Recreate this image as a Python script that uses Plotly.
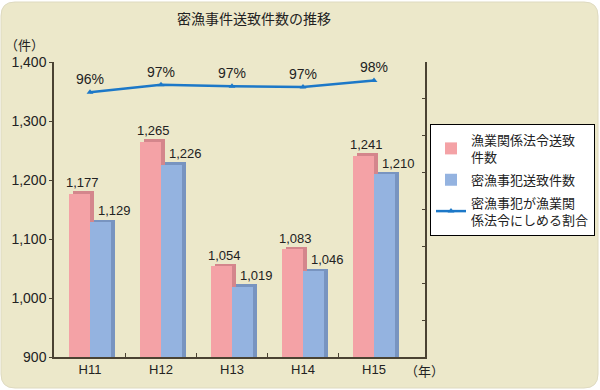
import plotly.graph_objects as go
import numpy as np

# ---- data ----
categories = ["H11", "H12", "H13", "H14", "H15"]
fisheries_law = [1177, 1265, 1054, 1083, 1241]      # 漁業関係法令送致件数
poaching = [1129, 1226, 1019, 1046, 1210]           # 密漁事犯送致件数
ratio_pct = [95.9, 96.9, 96.7, 96.6, 97.5]          # 密漁事犯が漁業関係法令にしめる割合
ratio_labels = ["96%", "97%", "97%", "97%", "98%"]
y_ticks = [900, 1000, 1100, 1200, 1300, 1400]

# ---- styles ----
BG = "#ece8ca"
PINK = "#f4a2a6"
PINK_DARK = "#d4868c"
BLUE = "#94b3e0"
BLUE_DARK = "#7894c0"
LINE = "#1c78c8"
AXIS = "#4a4232"
TXT = "#222222"
FONT = "Liberation Sans, Arial, sans-serif"
JP = "Noto Sans CJK JP"

# layout geometry (pixels)
ML, MR, MT, MB = 54, 0, 62, 33
PLOT_R = 425
PAPER_W = 600 - ML - MR
PAPER_H = 390 - MT - MB

x = np.arange(len(categories))
W = 0.296       # bar width in category units
SX = 0.055      # 3D depth shift (x)
SY = 4          # 3D depth shift (y, data units)

fig = go.Figure()

# pink bars (depth + front)
fig.add_trace(go.Bar(x=x, y=np.array(fisheries_law) + SY, width=W, offset=-W + SX,
                     marker=dict(color=PINK_DARK, line=dict(width=0)),
                     showlegend=False, hoverinfo="skip", legendgroup="a"))
fig.add_trace(go.Bar(x=x, y=fisheries_law, width=W, offset=-W,
                     marker=dict(color=PINK, line=dict(width=0)),
                     name="漁業関係法令送致<br>件数", legendgroup="a"))
# blue bars (depth + front)
fig.add_trace(go.Bar(x=x, y=np.array(poaching) + SY, width=W, offset=SX,
                     marker=dict(color=BLUE_DARK, line=dict(width=0)),
                     showlegend=False, hoverinfo="skip", legendgroup="b"))
fig.add_trace(go.Bar(x=x, y=poaching, width=W, offset=0,
                     marker=dict(color=BLUE, line=dict(width=0)),
                     name="密漁事犯送致件数", legendgroup="b"))

# ratio line on secondary axis
fig.add_trace(go.Scatter(x=x, y=ratio_pct, yaxis="y2", mode="lines+markers+text",
                         line=dict(color=LINE, width=2.5),
                         marker=dict(symbol="triangle-up", size=6, color=LINE),
                         text=ratio_labels, textposition="top center",
                         textfont=dict(size=14, color=TXT, family=FONT),
                         name="密漁事犯が漁業関<br>係法令にしめる割合", cliponaxis=False,
                         legendgroup="c"))

# value labels on bars
annotations = []
for i, v in enumerate(fisheries_law):
    annotations.append(dict(x=x[i], y=v, xref="x", yref="y", text=f"{v:,}",
                            showarrow=False, xshift=-8, yshift=11,
                            font=dict(size=13, color=TXT, family=FONT)))
for i, v in enumerate(poaching):
    annotations.append(dict(x=x[i], y=v, xref="x", yref="y", text=f"{v:,}",
                            showarrow=False, xshift=24, yshift=11,
                            font=dict(size=13, color=TXT, family=FONT)))


def px(xp):
    return (xp - ML) / PAPER_W


def py(yp):
    return (390 - MB - yp) / PAPER_H


# titles / units
annotations += [
    dict(text="密漁事件送致件数の推移", xref="paper", yref="paper",
         x=px(254), y=py(18), xanchor="center", yanchor="middle", showarrow=False,
         font=dict(size=14, color=TXT, family=JP)),
    dict(text="（件）", xref="paper", yref="paper",
         x=px(24), y=py(44), xanchor="center", yanchor="middle", showarrow=False,
         font=dict(size=13, color=TXT, family=JP)),
    dict(text="（年）", xref="paper", yref="paper",
         x=px(424), y=py(370), xanchor="center", yanchor="middle", showarrow=False,
         font=dict(size=13, color=TXT, family=JP)),
]

# rounded background panel
r = 14
L, R, T, B = 1, 598, 2, 388
path = (f"M {px(L + r)},{py(T)} L {px(R - r)},{py(T)} Q {px(R)},{py(T)} {px(R)},{py(T + r)} "
        f"L {px(R)},{py(B - r)} Q {px(R)},{py(B)} {px(R - r)},{py(B)} "
        f"L {px(L + r)},{py(B)} Q {px(L)},{py(B)} {px(L)},{py(B - r)} "
        f"L {px(L)},{py(T + r)} Q {px(L)},{py(T)} {px(L + r)},{py(T)} Z")
shapes = [dict(type="path", path=path, xref="paper", yref="paper",
               fillcolor=BG, line=dict(color="#dedac0", width=1), layer="below")]

fig.update_layout(
    width=600, height=390,
    margin=dict(l=ML, r=MR, t=MT, b=MB),
    paper_bgcolor="white", plot_bgcolor="rgba(0,0,0,0)",
    barmode="overlay", bargap=0,
    font=dict(family=FONT, size=13, color=TXT),
    xaxis=dict(domain=[0, px(PLOT_R)], range=[-0.507, 4.718], tickvals=x, ticktext=categories,
               showline=True, linecolor=AXIS, linewidth=1.5, ticks="",
               showgrid=False, zeroline=False,
               tickfont=dict(size=13, color=TXT, family=FONT),
               minor=dict(tickmode="array", tickvals=list(x[:-1] + 0.5), ticks="inside",
                          ticklen=4, tickcolor=AXIS, tickwidth=1, showgrid=False)),
    yaxis=dict(range=[900, 1400], tickvals=y_ticks, tickformat=",",
               showline=True, linecolor=AXIS, linewidth=1.5, ticks="outside",
               ticklen=3, tickcolor=AXIS, showgrid=False, zeroline=False,
               tickfont=dict(size=14, color=TXT, family=FONT)),
    yaxis2=dict(range=[60, 100], dtick=5, overlaying="y", side="right",
                anchor="x", showline=True, linecolor=AXIS, linewidth=1.5, ticks="inside",
                ticklen=3, tickcolor=AXIS, showticklabels=False,
                showgrid=False, zeroline=False),
    legend=dict(x=px(430), y=py(124), xanchor="left", yanchor="top",
                bgcolor="white", bordercolor="black", borderwidth=1,
                font=dict(size=13, color=TXT, family=JP),
                itemwidth=30, tracegroupgap=3),
    annotations=annotations, shapes=shapes,
)

fig.write_html("out.html", config={"displayModeBar": False},
               post_script="document.body.style.margin='0';document.body.style.overflow='hidden';")
